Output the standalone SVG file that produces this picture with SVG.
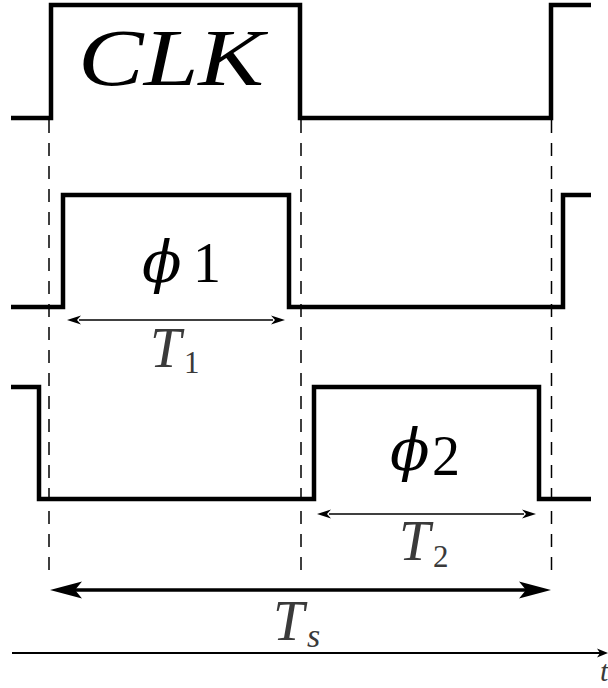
<svg xmlns="http://www.w3.org/2000/svg" width="608" height="688" viewBox="0 0 608 688">
<style>
.wave{fill:none;stroke:#000;stroke-width:4.5;stroke-linejoin:miter;stroke-linecap:butt}
.guide{fill:none;stroke:#000;stroke-width:1.5;stroke-dasharray:13 10}
.dim{fill:none;stroke:#000;stroke-width:1.5}
.big{fill:none;stroke:#000;stroke-width:3.5}
.axis{fill:none;stroke:#000;stroke-width:2}
.m{font-family:"Liberation Serif","DejaVu Serif",serif;font-style:italic}
.p{font-family:"DejaVu Serif","Liberation Serif",serif;font-style:italic;font-weight:300}
.n{font-family:"Liberation Serif","DejaVu Serif",serif;font-style:normal}
.lbl{fill:#3a3a3a}
</style>
<defs>
<marker id="sm" viewBox="-16 -6 18 12" refX="-12" refY="0" markerUnits="userSpaceOnUse" markerWidth="18" markerHeight="12" orient="auto-start-reverse">
<path d="M0,0 L-14,-4.5 L-10,0 L-14,4.5 Z" fill="#000"/>
</marker>
<marker id="lg" viewBox="-34 -10 36 20" refX="-24" refY="0" markerUnits="userSpaceOnUse" markerWidth="36" markerHeight="20" orient="auto-start-reverse">
<path d="M0,0 L-32,-8.5 L-25,0 L-32,8.5 Z" fill="#000"/>
</marker>
<marker id="ax" viewBox="-12 -6 14 12" refX="-8" refY="0" markerUnits="userSpaceOnUse" markerWidth="14" markerHeight="12" orient="auto">
<path d="M0,0 L-11,-4.5 L-8,0 L-11,4.5 Z" fill="#000"/>
</marker>
</defs>
<g id="guides">
<line class="guide" x1="49" y1="120" x2="49" y2="574"/>
<line class="guide" x1="301" y1="120" x2="301" y2="574"/>
<line class="guide" x1="551.5" y1="120" x2="551.5" y2="574"/>
</g>
<g id="clk">
<path class="wave" d="M11,118 H51 V5 H300 V118 H551 V5 H591"/>
<text class="m" x="78" y="85" font-size="80" textLength="186" lengthAdjust="spacingAndGlyphs">CLK</text>
</g>
<g id="phi1">
<path class="wave" d="M11,307 H63 V195 H289 V307 H563 V195 H591"/>
<text class="p" x="142" y="282" font-size="58">ϕ</text>
<text class="n" x="193" y="282" font-size="56">1</text>
</g>
<g id="phi2">
<path class="wave" d="M11,387 H39 V499 H314 V387 H539 V499 H591"/>
<text class="p" x="390" y="470" font-size="58">ϕ</text>
<text class="n" x="432" y="475" font-size="56">2</text>
</g>
<g id="connectors">
<line class="dim" x1="79" y1="320" x2="273" y2="320" marker-start="url(#sm)" marker-end="url(#sm)"/>
<line class="dim" x1="329" y1="514" x2="524" y2="514" marker-start="url(#sm)" marker-end="url(#sm)"/>
<line class="big" x1="74" y1="590" x2="527" y2="590" marker-start="url(#lg)" marker-end="url(#lg)"/>
<line class="axis" x1="12" y1="653" x2="600" y2="653" marker-end="url(#ax)"/>
</g>
<g id="labels">
<text class="m lbl" x="150" y="367" font-size="56">T</text>
<text class="n lbl" x="184" y="373" font-size="31">1</text>
<text class="m lbl" x="399" y="560" font-size="56">T</text>
<text class="n lbl" x="433" y="567" font-size="31">2</text>
<text class="m lbl" x="273" y="640" font-size="56">T</text>
<text class="m lbl" x="307" y="647" font-size="34">s</text>
<text class="m lbl" x="600" y="681" font-size="30">t</text>
</g>
</svg>
